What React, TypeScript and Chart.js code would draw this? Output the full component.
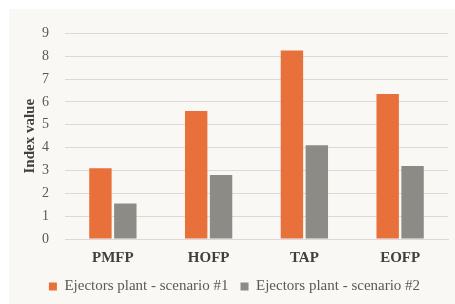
import React, { useEffect, useRef } from "react";
import { Chart, registerables } from "chart.js";

Chart.register(...registerables);

const categories = ["PMFP", "HOFP", "TAP", "EOFP"];
const scenario1 = [3.1, 5.6, 8.25, 6.35];
const scenario2 = [1.55, 2.8, 4.1, 3.2];
const seriesNames = ["Ejectors plant - scenario #1", "Ejectors plant - scenario #2"];
const yTicks = [0, 1, 2, 3, 4, 5, 6, 7, 8, 9];

const SERIF = "'Liberation Serif', 'Times New Roman', serif";

export default function App() {
  const ref = useRef<HTMLCanvasElement | null>(null);

  useEffect(() => {
    if (!ref.current) return;
    const chart = new Chart(ref.current, {
      type: "bar",
      data: {
        labels: categories,
        datasets: [
          {
            label: seriesNames[0],
            data: scenario1,
            backgroundColor: "#E8703A",
            categoryPercentage: 0.52,
            barPercentage: 0.9,
          },
          {
            label: seriesNames[1],
            data: scenario2,
            backgroundColor: "#8D8B85",
            categoryPercentage: 0.52,
            barPercentage: 0.9,
          },
        ],
      },
      options: {
        animation: false,
        responsive: false,
        maintainAspectRatio: false,
        layout: { padding: { top: 24, right: 7, left: 12, bottom: 0 } },
        plugins: {
          tooltip: { enabled: false },
          legend: {
            position: "bottom",
            labels: {
              boxWidth: 8,
              boxHeight: 8,
              padding: 12,
              color: "#595959",
              font: { family: SERIF, size: 15 },
            },
          },
        },
        scales: {
          x: {
            afterFit: (axis: any) => {
              axis.height = 28;
            },
            grid: { display: false, drawTicks: false },
            border: { display: true, color: "#d9d9d9", width: 1 },
            ticks: {
              padding: 10,
              color: "#404040",
              font: { family: SERIF, size: 15, weight: "bold" },
            },
          },
          y: {
            min: 0,
            max: 9,
            afterBuildTicks: (axis: any) => {
              axis.ticks = yTicks.map((v) => ({ value: v }));
            },
            afterFit: (axis: any) => {
              axis.width = 44;
            },
            grid: { color: "#d9d9d9", lineWidth: 1, drawTicks: false },
            border: { display: false },
            ticks: {
              padding: 16,
              color: "#595959",
              font: { family: SERIF, size: 14 },
            },
            title: {
              display: true,
              text: "Index value",
              color: "#404040",
              padding: { top: 0, bottom: 0 },
              font: { family: SERIF, size: 15, weight: "bold" },
            },
          },
        },
      },
    });
    return () => chart.destroy();
  }, []);

  return (
    <div
      style={{
        position: "absolute",
        left: 9,
        top: 9,
        width: 446,
        height: 295,
        background: "#FAF8F4",
      }}
    >
      <canvas ref={ref} width={446} height={295} style={{ display: "block" }} />
    </div>
  );
}
